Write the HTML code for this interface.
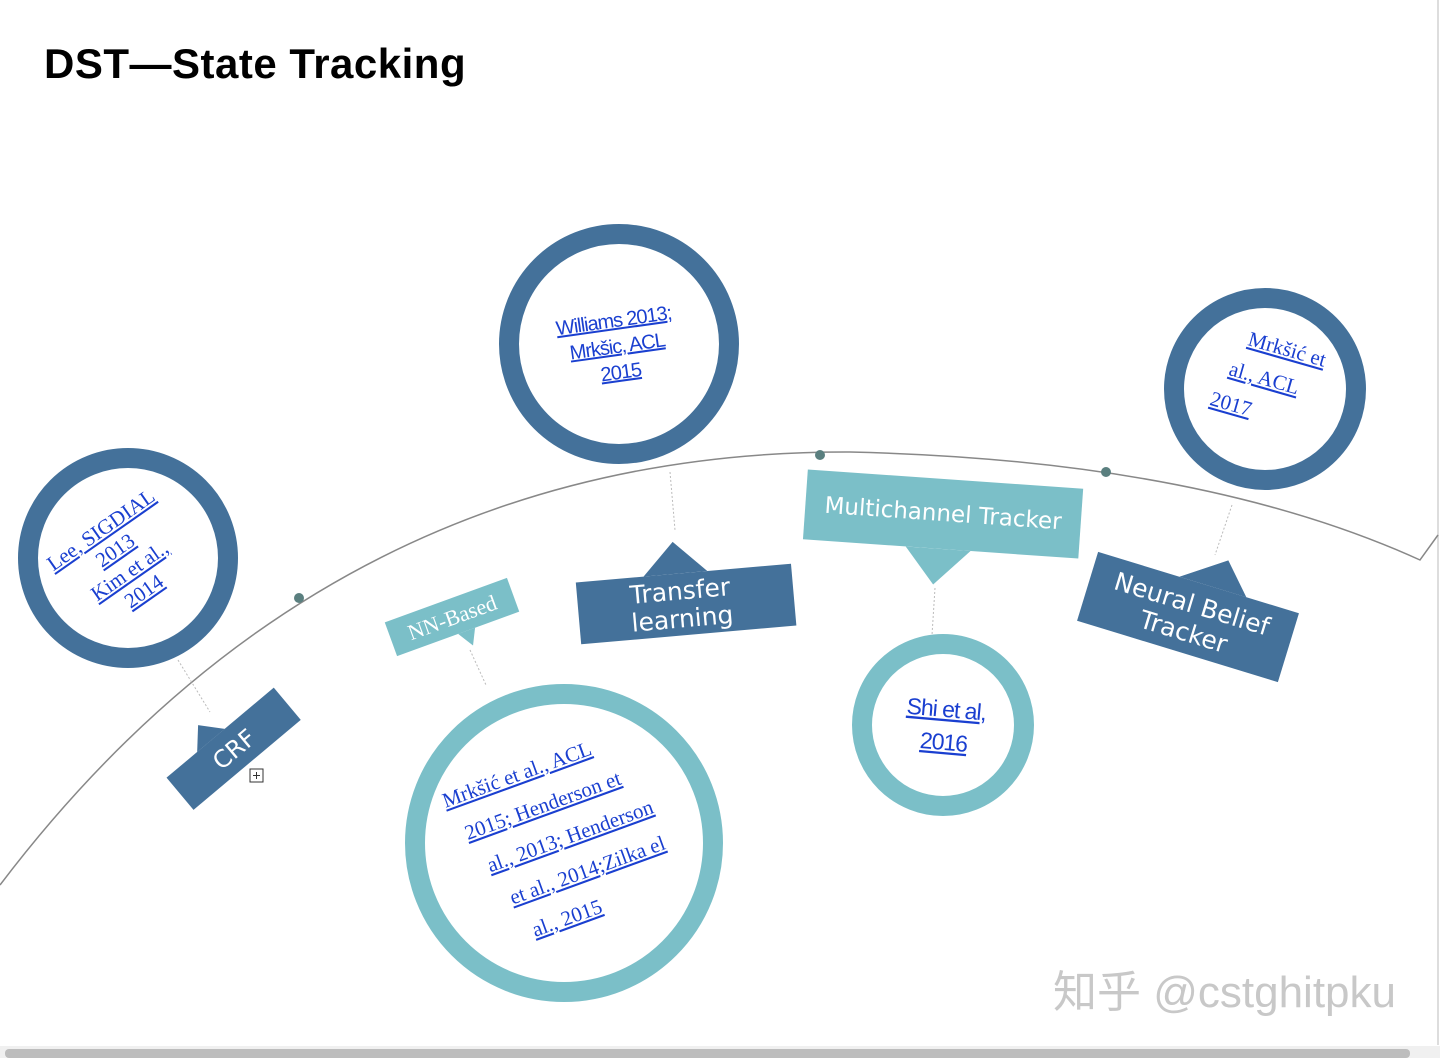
<!DOCTYPE html>
<html><head><meta charset="utf-8"><style>
html,body{margin:0;padding:0;background:#fff;width:1440px;height:1058px;overflow:hidden}
svg{display:block}
.lnk{fill:#1a3fd0;font-family:"Liberation Serif",serif;text-decoration:underline}
.lnks{fill:#1a3fd0;font-family:"Liberation Sans",sans-serif;text-decoration:underline}
.lbl{fill:#fff;font-family:"DejaVu Sans",sans-serif}
</style></head><body>
<svg width="1440" height="1058" viewBox="0 0 1440 1058">
<text x="44" y="78" font-family="Liberation Sans,sans-serif" font-weight="bold" font-size="42" letter-spacing="0.5" fill="#000">DST—State Tracking</text>
<line x1="1438" y1="0" x2="1438" y2="1045" stroke="#ddd" stroke-width="2"/>
<path d="M0,885 Q330,450 850,452 Q1200,460 1420,560 L1438,535" fill="none" stroke="#888" stroke-width="1.5"/>
<g fill="#5a7f7f">
<circle cx="299" cy="598" r="5"/><circle cx="820" cy="455" r="5"/><circle cx="1106" cy="472" r="5"/></g>
<g stroke="#bbb" stroke-dasharray="2,2" fill="none">
<line x1="178" y1="660" x2="210" y2="712"/><line x1="470" y1="650" x2="486" y2="685"/>
<line x1="670" y1="472" x2="675" y2="530"/><line x1="935" y1="588" x2="932" y2="635"/>
<line x1="1232" y1="505" x2="1215" y2="555"/></g>
<g fill="none">
<circle cx="128" cy="558" r="100" stroke="#44719a" stroke-width="20"/>
<circle cx="619" cy="344" r="110" stroke="#44719a" stroke-width="20"/>
<circle cx="1265" cy="389" r="91" stroke="#44719a" stroke-width="20"/>
<circle cx="564" cy="843" r="149" stroke="#7bbfc8" stroke-width="20"/>
<circle cx="943" cy="725" r="81" stroke="#7bbfc8" stroke-width="20"/>
</g>
<g transform="translate(122,560) rotate(-35)" class="lnk" font-size="21" text-anchor="middle">
<text y="-30">Lee, SIGDIAL</text><text y="-5">2013</text><text y="20">Kim et al.,</text><text y="45">2014</text></g>
<g transform="translate(617,345) rotate(-8)" class="lnks" font-size="20" text-anchor="middle" letter-spacing="-1">
<text y="-18">Williams 2013;</text><text y="8">Mrkšic, ACL</text><text y="34">2015</text></g>
<g transform="translate(1268,380) rotate(16)" class="lnk" font-size="21">
<text x="-30" y="-28">Mrkšić et</text><text x="-40" y="6">al., ACL</text><text x="-50" y="40">2017</text></g>
<g transform="translate(560,830) rotate(-20)" class="lnk" font-size="21">
<text x="-100" y="-60">Mrkšić et al., ACL</text><text x="-90" y="-22">2015; Henderson et</text><text x="-80" y="16">al., 2013; Henderson</text><text x="-70" y="54">et al., 2014;Zilka el</text><text x="-60" y="92">al., 2015</text></g>
<g transform="translate(945,725) rotate(5)" class="lnks" font-size="23" text-anchor="middle" letter-spacing="-1">
<text y="-8">Shi et al,</text><text y="25">2016</text></g>
<g transform="translate(233,748) rotate(-40)">
<rect x="-70" y="-20" width="140" height="42" fill="#44719a"/><polygon points="-30,-20 -12,-40 6,-20" fill="#44719a"/>
<text x="0" y="10" class="lbl" font-size="24" text-anchor="middle">CRF</text></g>
<rect x="250" y="769" width="13" height="13" fill="#fff" stroke="#333"/><path d="M253,775.5h7M256.5,772v7" stroke="#333"/>
<g transform="translate(452,617) rotate(-20)">
<rect x="-65" y="-18" width="130" height="36" fill="#7bbfc8"/><polygon points="0,18 18,18 10,34" fill="#7bbfc8"/>
<text x="0" y="8" font-family="Liberation Serif,serif" fill="#fff" font-size="22" text-anchor="middle">NN-Based</text></g>
<g transform="translate(686,603) rotate(-5)">
<rect x="-108" y="-30" width="216" height="62" fill="#44719a"/><polygon points="-40,-30 -8,-62 24,-30" fill="#44719a"/>
<text x="-5" y="-4" class="lbl" font-size="25" text-anchor="middle">Transfer</text><text x="-5" y="24" class="lbl" font-size="25" text-anchor="middle">learning</text></g>
<g transform="translate(943,515) rotate(4)">
<rect x="-138" y="-36" width="276" height="70" fill="#7bbfc8"/><polygon points="-35,34 30,34 -5,70" fill="#7bbfc8"/>
<text x="0" y="6" class="lbl" font-size="23" text-anchor="middle">Multichannel Tracker</text></g>
<g transform="translate(1188,617) rotate(17)">
<rect x="-105" y="-36" width="210" height="72" fill="#44719a"/><polygon points="-20,-36 22,-66 50,-36" fill="#44719a"/>
<text x="0" y="-5" class="lbl" font-size="25" text-anchor="middle">Neural Belief</text><text x="0" y="24" class="lbl" font-size="25" text-anchor="middle">Tracker</text></g>
<text x="1053" y="1007" font-family="Liberation Sans,Noto Sans CJK SC,sans-serif" font-size="44" fill="#c8c8c8">知乎 @cstghitpku</text>
<rect x="0" y="1046" width="1440" height="12" fill="#f0f0f0"/>
<rect x="5" y="1049" width="1405" height="9" rx="4" fill="#bdbdbd"/>
</svg>
</body></html>
